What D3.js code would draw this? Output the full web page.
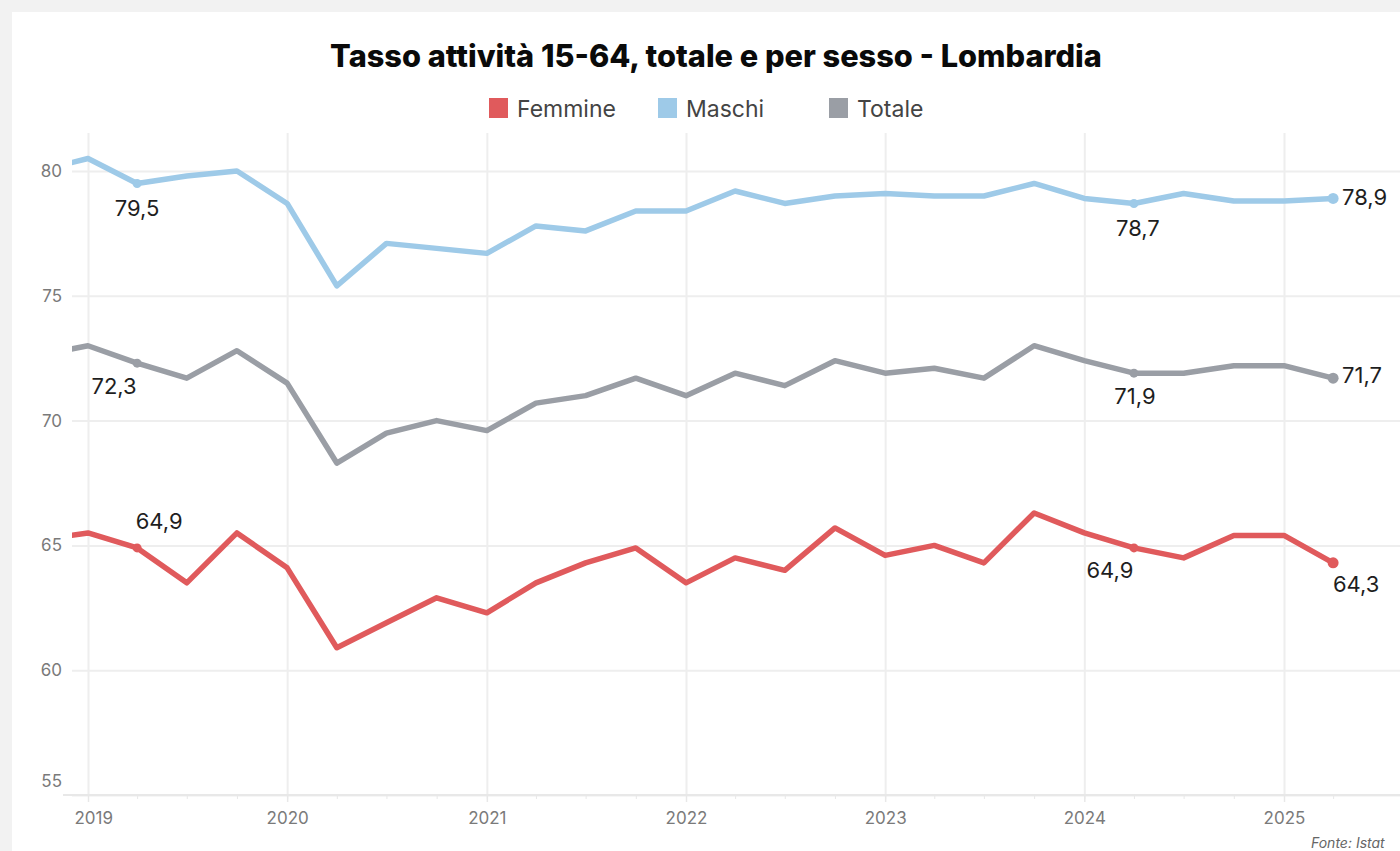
<!DOCTYPE html>
<html><head><meta charset="utf-8">
<script src="https://cdn.jsdelivr.net/npm/d3@7"></script>
<style>
html,body{margin:0;padding:0;background:#f2f2f2;overflow:hidden}
svg{display:block}
</style></head><body>
<svg id="chart" width="1400" height="851"></svg>
<script>
// ---- data ----
const quarters = ["2018-10",
  "2019-01","2019-04","2019-07","2019-10",
  "2020-01","2020-04","2020-07","2020-10",
  "2021-01","2021-04","2021-07","2021-10",
  "2022-01","2022-04","2022-07","2022-10",
  "2023-01","2023-04","2023-07","2023-10",
  "2024-01","2024-04","2024-07","2024-10",
  "2025-01","2025-04"];
const femmine = [65.2,
  65.5, 64.9, 63.5, 65.5,
  64.1, 60.9, 61.9, 62.9,
  62.3, 63.5, 64.3, 64.9,
  63.5, 64.5, 64.0, 65.7,
  64.6, 65.0, 64.3, 66.3,
  65.5, 64.9, 64.5, 65.4,
  65.4, 64.3];
const maschi = [80.0,
  80.5, 79.5, 79.8, 80.0,
  78.7, 75.4, 77.1, 76.9,
  76.7, 77.8, 77.6, 78.4,
  78.4, 79.2, 78.7, 79.0,
  79.1, 79.0, 79.0, 79.5,
  78.9, 78.7, 79.1, 78.8,
  78.8, 78.9];
const totale = [72.6,
  73.0, 72.3, 71.7, 72.8,
  71.5, 68.3, 69.5, 70.0,
  69.6, 70.7, 71.0, 71.7,
  71.0, 71.9, 71.4, 72.4,
  71.9, 72.1, 71.7, 73.0,
  72.4, 71.9, 71.9, 72.2,
  72.2, 71.7];
const seriesNames = ["Femmine", "Maschi", "Totale"];
const seriesValues = [femmine, maschi, totale];
const seriesColors = ["#e05a5c", "#9ecae8", "#9a9ea5"];
const yTicks = [55, 60, 65, 70, 75, 80];
const xTickYears = ["2019-01","2020-01","2021-01","2022-01","2023-01","2024-01","2025-01"];
const xTickLabels = ["2019","2020","2021","2022","2023","2024","2025"];
const labelledQuarters = ["2019-04","2024-04","2025-04"];
const titleText = "Tasso attività 15-64, totale e per sesso - Lombardia";
const sourceText = "Fonte: Istat";

// ---- styling / layout (not data) ----
const W = 1400, H = 851;
const FONT = "Inter, 'Open Sans', 'DejaVu Sans', sans-serif";
const plotLeft = 72, plotTop = 133, plotBottom = 795, plotRight = 1400;
// label placement per series for each labelled quarter: [dx, dy(baseline), anchor]
const labelPlacement = {
  "Femmine": [[22, -19, "middle"], [-24, 30, "middle"], [23, 29, "middle"]],
  "Maschi":  [[0, 33, "middle"], [4, 33, "middle"], [9, 7, "start"]],
  "Totale":  [[-23, 31, "middle"], [1, 31, "middle"], [9, 5, "start"]]
};
const legendX = [489, 658, 829];

const parse = d3.timeParse("%Y-%m");
const fmt = d3.formatLocale({decimal: ",", thousands: ".", grouping: [3], currency: ["", "€"]}).format(".1f");

const svg = d3.select("#chart");
svg.append("rect").attr("width", W).attr("height", H).attr("fill", "#f2f2f2");
svg.append("rect").attr("x", 12).attr("y", 12).attr("width", W).attr("height", H).attr("fill", "#ffffff");

const x = d3.scaleTime().domain([parse("2019-01"), parse("2025-01")]).range([88, 1284]);
const y = d3.scaleLinear().domain([55, 80]).range([plotBottom, 171]);

// title
const title = svg.append("text")
  .attr("x", 716).attr("y", 67).attr("text-anchor", "middle")
  .attr("font-family", FONT).attr("font-weight", 800).attr("font-size", 27)
  .attr("fill", "#0a0a0a").text(titleText);
{
  const w = title.node().getComputedTextLength();
  title.attr("font-size", 27 * 772 / w);
}

// legend
seriesNames.forEach((name, i) => {
  const g = svg.append("g").attr("transform", `translate(${legendX[i]},0)`);
  g.append("rect").attr("x", 0).attr("y", 98).attr("width", 19).attr("height", 20).attr("fill", seriesColors[i]);
  g.append("text").attr("x", 28).attr("y", 117)
    .attr("font-family", FONT).attr("font-size", 23).attr("fill", "#444").text(name);
});

// vertical gridlines (years)
const yearDates = xTickYears.map(parse);
const gridX = svg.append("g").attr("transform", `translate(0,${plotBottom})`)
  .call(d3.axisBottom(x).tickValues(yearDates).tickSize(-(plotBottom - plotTop)).tickFormat(""));
gridX.select(".domain").remove();
gridX.selectAll("line").attr("stroke", "#eeeeee").attr("stroke-width", 2);

// horizontal gridlines + y labels
const yAx = svg.append("g").attr("transform", `translate(${plotLeft},0)`)
  .call(d3.axisLeft(y).tickValues(yTicks).tickSize(-(plotRight - plotLeft)).tickPadding(10).tickFormat(d => d));
yAx.select(".domain").remove();
yAx.selectAll("line").attr("stroke", "#eeeeee").attr("stroke-width", 2);
yAx.selectAll("text").attr("font-family", FONT).attr("font-size", 17).attr("fill", "#7a7a7a");
yAx.selectAll(".tick").filter(d => d === 55).select("text").attr("dy", "-0.5em");

// baseline
svg.append("line").attr("x1", 63).attr("x2", plotRight).attr("y1", y(55)).attr("y2", y(55))
  .attr("stroke", "#e8e8e8").attr("stroke-width", 2);

// minor quarter ticks
const quarterDates = quarters.map(parse).filter(d => d >= parse("2019-01"));
const minor = svg.append("g").attr("transform", `translate(0,${plotBottom})`)
  .call(d3.axisBottom(x).tickValues(quarterDates).tickSize(4).tickFormat(""));
minor.select(".domain").remove();
minor.selectAll("line").attr("stroke", "#e8e8e8").attr("stroke-width", 1);

// x axis labels + year ticks
const xAx = svg.append("g").attr("transform", `translate(0,${plotBottom})`)
  .call(d3.axisBottom(x).tickValues(yearDates).tickSize(7).tickPadding(10).tickFormat((d, i) => xTickLabels[i]));
xAx.select(".domain").remove();
xAx.selectAll("line").attr("stroke", "#e8e8e8").attr("stroke-width", 1.5);
xAx.selectAll("text").attr("font-family", FONT).attr("font-size", 17).attr("fill", "#7a7a7a");
xAx.selectAll(".tick text").each(function () {
  const bb = this.getBBox();
  const tx = x(d3.select(this.parentNode).datum());
  if (bb.x + tx < plotLeft + 2) {
    d3.select(this).attr("text-anchor", "start").attr("x", plotLeft + 2 - tx);
  }
});

// clip
svg.append("clipPath").attr("id", "plotclip").append("rect")
  .attr("x", plotLeft).attr("y", plotTop - 10).attr("width", plotRight - plotLeft).attr("height", plotBottom - plotTop + 20);

const lineGen = d3.line().x(d => x(d.date)).y(d => y(d.value));
const plot = svg.append("g").attr("clip-path", "url(#plotclip)");

seriesNames.forEach((name, i) => {
  const data = quarters.map((q, k) => ({date: parse(q), q, value: seriesValues[i][k]}));
  plot.append("path").datum(data).attr("d", lineGen)
    .attr("fill", "none").attr("stroke", seriesColors[i]).attr("stroke-width", 5.5)
    .attr("stroke-linejoin", "round").attr("stroke-linecap", "round");
  const lab = data.filter(d => labelledQuarters.includes(d.q));
  lab.forEach((d, j) => {
    const last = j === lab.length - 1;
    svg.append("circle").attr("cx", x(d.date)).attr("cy", y(d.value)).attr("r", last ? 5.5 : 4.5)
      .attr("fill", seriesColors[i]);
    const p = labelPlacement[name][j];
    svg.append("text").attr("x", x(d.date) + p[0]).attr("y", y(d.value) + p[1])
      .attr("text-anchor", p[2]).attr("font-family", FONT).attr("font-size", 22)
      .attr("fill", "#1e1e1e").text(fmt(d.value));
  });
});

// source
svg.append("text").attr("x", 1311).attr("y", 848).attr("font-family", FONT)
  .attr("font-size", 14).attr("font-style", "italic").attr("fill", "#666").text(sourceText);
</script>
</body></html>
